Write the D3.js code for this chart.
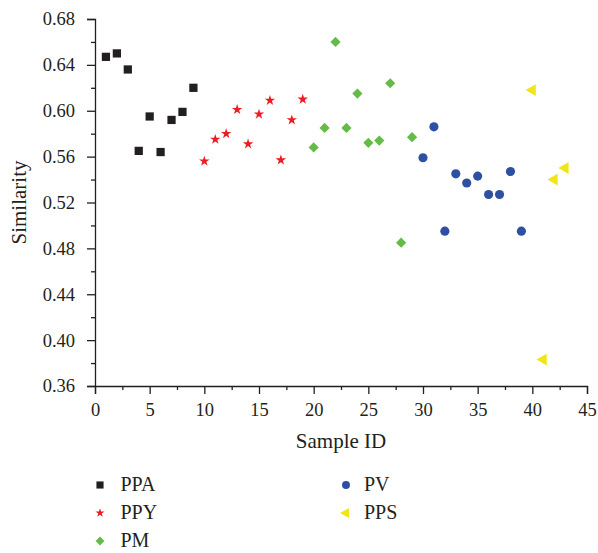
<!DOCTYPE html>
<html>
<head>
<meta charset="utf-8">
<script src="https://cdn.jsdelivr.net/npm/d3@7"></script>
<style>
  body { margin: 0; background: #fff; }
</style>
</head>
<body>
<svg id="chart" width="598" height="553"></svg>
<script>

// values
var ppaX = [1, 2, 3, 4, 5, 6, 7, 8, 9];
var ppaY = [0.647, 0.650, 0.636, 0.565, 0.595, 0.564, 0.592, 0.599, 0.620];

var ppyX = [10, 11, 12, 13, 14, 15, 16, 17, 18, 19];
var ppyY = [0.556, 0.575, 0.580, 0.601, 0.571, 0.597, 0.609, 0.557, 0.592, 0.610];

var pmX = [20, 21, 22, 23, 24, 25, 26, 27, 28, 29];
var pmY = [0.568, 0.585, 0.660, 0.585, 0.615, 0.572, 0.574, 0.624, 0.485, 0.577];

var pvX = [30, 31, 32, 33, 34, 35, 36, 37, 38, 39];
var pvY = [0.559, 0.586, 0.495, 0.545, 0.537, 0.543, 0.527, 0.527, 0.547, 0.495];

var ppsX = [40, 41, 42, 43];
var ppsY = [0.618, 0.383, 0.540, 0.550];

var xTicks = [0, 5, 10, 15, 20, 25, 30, 35, 40, 45];
var yTicks = [0.36, 0.40, 0.44, 0.48, 0.52, 0.56, 0.60, 0.64, 0.68];

var seriesNames = ['PPA', 'PPY', 'PM', 'PV', 'PPS'];
var seriesColors = ['#231f20', '#ed1c24', '#64bb46', '#2e50a2', '#f1e615'];

const plotLeft = 95, plotRight = 587, plotTop = 19, plotBottom = 386;
const font = '"Liberation Serif", "Times New Roman", serif';

var svg = d3.select('#chart');

var x = d3.scaleLinear().domain([0, 45]).range([plotLeft, plotRight]);
var y = d3.scaleLinear().domain([0.36, 0.68]).range([plotBottom, plotTop]);

function minorTicks (ticks) {
    var out = [];
    for (var i = 0; i < ticks.length - 1; i++) {
        out.push((ticks[i] + ticks[i + 1]) / 2);
    }
    return out;
}

// axes
svg.append('g')
    .attr('transform', 'translate(0,' + plotBottom + ')')
    .call(d3.axisBottom(x).tickValues(xTicks).tickSize(8).tickPadding(9).tickFormat(d3.format('d')));
svg.append('g')
    .attr('transform', 'translate(0,' + plotBottom + ')')
    .call(d3.axisBottom(x).tickValues(minorTicks(xTicks)).tickSize(4).tickFormat(''))
    .select('.domain').remove();

svg.append('g')
    .attr('transform', 'translate(' + plotLeft + ',0)')
    .call(d3.axisLeft(y).tickValues(yTicks).tickSize(8).tickPadding(12).tickFormat(d3.format('.2f')));
svg.append('g')
    .attr('transform', 'translate(' + plotLeft + ',0)')
    .call(d3.axisLeft(y).tickValues(minorTicks(yTicks)).tickSize(4).tickFormat(''))
    .select('.domain').remove();

svg.selectAll('.domain, .tick line')
    .attr('stroke', '#231f20')
    .attr('stroke-width', 1.3);
svg.selectAll('.tick text')
    .style('font-size', '18.5px')
    .style('font-family', font)
    .attr('fill', '#231f20');

// axis titles
svg.append('text')
    .attr('x', (plotLeft + plotRight) / 2)
    .attr('y', 448)
    .attr('text-anchor', 'middle')
    .style('font-family', font)
    .style('font-size', '21px')
    .attr('fill', '#231f20')
    .text('Sample ID');

svg.append('text')
    .attr('transform', 'translate(26,' + ((plotTop + plotBottom) / 2) + ') rotate(-90)')
    .attr('text-anchor', 'middle')
    .style('font-family', font)
    .style('font-size', '21px')
    .attr('fill', '#231f20')
    .text('Similarity');

// marker shapes
var shapes = [
    { type: d3.symbolSquare, size: 68, rotate: 0 },
    { type: d3.symbolStar, size: 34, rotate: 0 },
    { type: d3.symbolSquare, size: 52, rotate: 45 },
    { type: d3.symbolCircle, size: 66, rotate: 0 },
    { type: d3.symbolTriangle, size: 60, rotate: -90 }
];

var allX = [ppaX, ppyX, pmX, pvX, ppsX];
var allY = [ppaY, ppyY, pmY, pvY, ppsY];

allX.forEach(function (xs, s) {
    var pts = xs.map(function (d, i) { return [d, allY[s][i]]; });
    svg.append('g').selectAll('path')
        .data(pts)
        .join('path')
        .attr('d', d3.symbol().type(shapes[s].type).size(shapes[s].size))
        .attr('transform', function (d) {
            return 'translate(' + x(d[0]) + ',' + y(d[1]) + ') rotate(' + shapes[s].rotate + ')';
        })
        .attr('fill', seriesColors[s]);
});

// legend
var legendPos = [[100, 485], [100, 513], [100, 541], [346, 485], [346, 513]];
var legendGap = [20.5, 20.5, 20.5, 18, 18];

var legend = svg.append('g').selectAll('g')
    .data(seriesNames)
    .join('g')
    .attr('transform', function (d, i) { return 'translate(' + legendPos[i][0] + ',' + legendPos[i][1] + ')'; });

legend.append('path')
    .attr('d', function (d, i) {
        return d3.symbol().type(shapes[i].type).size(shapes[i].size * 0.75)();
    })
    .attr('transform', function (d, i) { return 'rotate(' + shapes[i].rotate + ')'; })
    .attr('fill', function (d, i) { return seriesColors[i]; });

legend.append('text')
    .attr('x', function (d, i) { return legendGap[i]; })
    .attr('y', 6)
    .style('font-family', font)
    .style('font-size', '20px')
    .attr('fill', '#231f20')
    .text(function (d) { return d; });

</script>
</body>
</html>
